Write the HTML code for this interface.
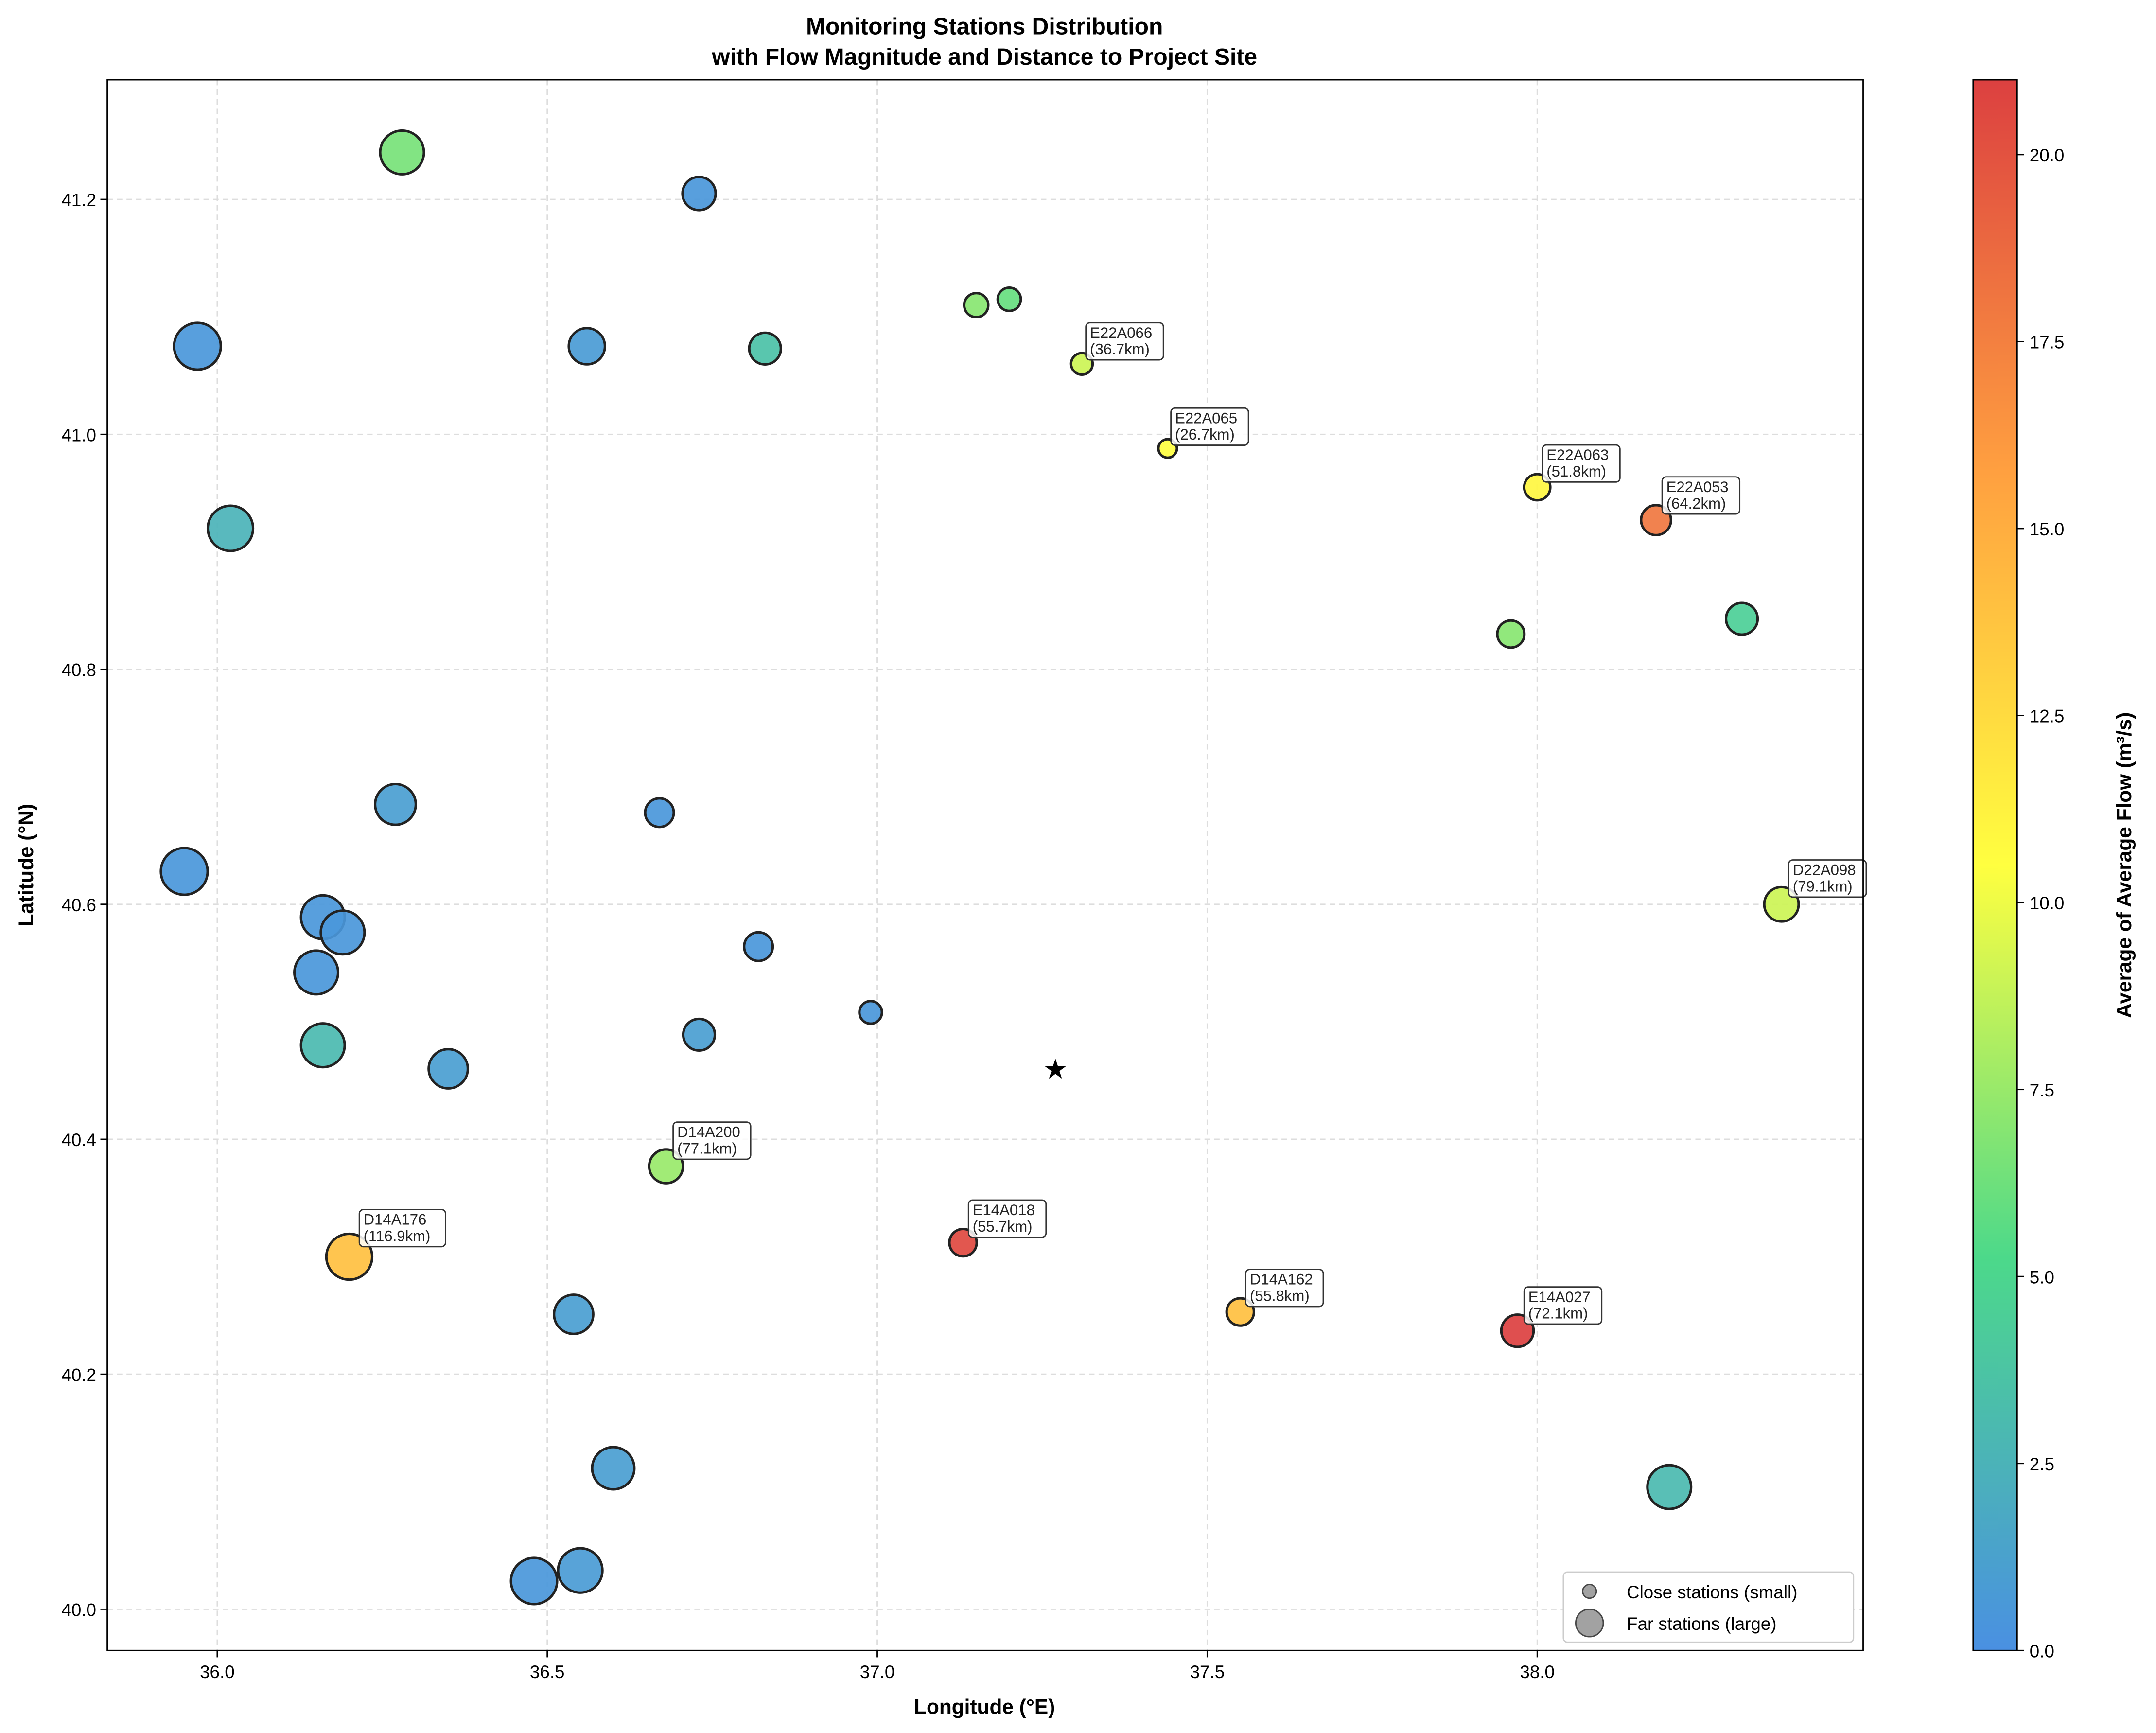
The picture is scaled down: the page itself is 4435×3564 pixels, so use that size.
<!DOCTYPE html>
<html><head><meta charset="utf-8"><style>html,body{margin:0;padding:0;background:#fff}svg{display:block}text{font-family:"Liberation Sans",sans-serif}</style></head>
<body>
<svg id="chart" width="4435" height="3564" viewBox="0 0 1568 1260" preserveAspectRatio="none" xmlns="http://www.w3.org/2000/svg">
<defs><linearGradient id="cbg" x1="0" y1="1" x2="0" y2="0">
<stop offset="0" stop-color="#4a90e2"/><stop offset="0.25" stop-color="#4cd98a"/><stop offset="0.5" stop-color="#ffff40"/><stop offset="0.75" stop-color="#ffa040"/><stop offset="1" stop-color="#dc4040"/></linearGradient></defs>
<rect width="1568" height="1260" fill="#fff"/>
<text x="716" y="25" text-anchor="middle" font-size="17" font-weight="bold">Monitoring Stations Distribution</text>
<text x="716" y="47" text-anchor="middle" font-size="17" font-weight="bold">with Flow Magnitude and Distance to Project Site</text>
<g id="grid"></g>
<g id="marks"></g>
<rect x="78" y="58" width="1277" height="1142" fill="none" stroke="#000" stroke-width="1"/>
<g id="axes"></g>
<text x="716" y="1246" text-anchor="middle" font-size="15" font-weight="bold">Longitude (°E)</text>
<text transform="translate(24,629) rotate(-90)" text-anchor="middle" font-size="15" font-weight="bold">Latitude (°N)</text>
<g>
<rect x="1137" y="1143" width="211" height="51" rx="3" fill="#fff" stroke="#ccc"/>
<circle cx="1156" cy="1157" r="5" fill="#999" stroke="#333" opacity="0.9"/>
<text x="1183" y="1162" font-size="13">Close stations (small)</text>
<circle cx="1156" cy="1180" r="10" fill="#999" stroke="#333" opacity="0.9"/>
<text x="1183" y="1185" font-size="13">Far stations (large)</text>
</g>
<rect x="1435" y="58" width="32" height="1142" fill="url(#cbg)" stroke="#000"/>
<g id="cbticks"></g>
<text transform="translate(1550,629) rotate(-90)" text-anchor="middle" font-size="15" font-weight="bold">Average of Average Flow (m³/s)</text>
</svg>
<script>
const lons=[36.28,36.73,35.97,36.56,36.83,37.15,37.2,37.31,37.44,38.0,38.18,36.02,37.96,38.31,36.27,36.67,35.95,36.16,36.19,36.15,36.82,36.99,36.73,36.16,36.35,36.68,36.2,37.13,37.55,37.97,38.37,36.54,36.6,38.2,36.48,36.55];
const lats=[41.24,41.205,41.075,41.075,41.073,41.11,41.115,41.06,40.988,40.955,40.927,40.92,40.83,40.843,40.685,40.678,40.628,40.589,40.576,40.542,40.564,40.508,40.489,40.48,40.46,40.377,40.30,40.312,40.253,40.237,40.6,40.251,40.12,40.104,40.024,40.033];
const flows=[6.5,0.5,0.5,0.8,3.5,7,6,9,10.5,11,18,2.5,7,4.5,1,0.5,0.5,0.5,0.5,0.5,0.5,0.5,1,3,1,7.5,14,20.5,14,21,9,1,1,3,0.5,0.8];
const dists=[110,75,120,85,70,45,42,36.7,26.7,51.8,64.2,115,55,70,100,60,120,110,110,110,60,40,70,110,95,77.1,116.9,55.7,55.8,72.1,79.1,95,105,110,118,112];
const labels=["","","","","","","","E22A066","E22A065","E22A063","E22A053","","","","","","","","","","","","","","","D14A200","D14A176","E14A018","D14A162","E14A027","D22A098","","","","",""];
const xTicks=[36.0,36.5,37.0,37.5,38.0];
const yTicks=[40.0,40.2,40.4,40.6,40.8,41.0,41.2];
const cTicks=[0,2.5,5,7.5,10,12.5,15,17.5,20];
const site=[37.27,40.46];
const NS="http://www.w3.org/2000/svg";
const X=v=>158+(v-36)*480, Y=v=>1170-(v-40)*854.2, C=v=>1200-v*(1142/21);
const R=d=>6+(d-20)*0.11;
const stops=[[0,[74,144,226]],[5.25,[76,217,138]],[10.5,[255,255,64]],[15.75,[255,160,64]],[21,[220,64,64]]];
function col(v){for(let i=0;i<stops.length-1;i++){const[a,ca]=stops[i],[b,cb]=stops[i+1];if(v<=b){const t=Math.max(0,(v-a)/(b-a));return`rgb(${ca.map((c,k)=>Math.round(c+(cb[k]-c)*t)).join(',')})`;}}return'rgb(220,64,64)';}
function mk(p,tag,at){const e=document.createElementNS(NS,tag);for(const k in at)e.setAttribute(k,at[k]);p.appendChild(e);return e;}
const g=document.getElementById('grid'),m=document.getElementById('marks'),ax=document.getElementById('axes'),cb=document.getElementById('cbticks');
xTicks.forEach(v=>{const l=mk(g,'line',{x1:X(v),x2:X(v),y1:58,y2:1200,stroke:'#ddd','stroke-dasharray':'4,3'});
mk(ax,'line',{x1:X(v),x2:X(v),y1:1200,y2:1205,stroke:'#000'});const t=mk(ax,'text',{x:X(v),y:1220,'text-anchor':'middle','font-size':13});t.textContent=v.toFixed(1);});
yTicks.forEach(v=>{const l=mk(g,'line',{x1:78,x2:1355,y1:Y(v),y2:Y(v),stroke:'#ddd','stroke-dasharray':'4,3'});
mk(ax,'line',{x1:73,x2:78,y1:Y(v),y2:Y(v),stroke:'#000'});const t=mk(ax,'text',{x:70,y:Y(v)+5,'text-anchor':'end','font-size':13});t.textContent=v.toFixed(1);});
cTicks.forEach(v=>{mk(cb,'line',{x1:1467,x2:1472,y1:C(v),y2:C(v),stroke:'#000'});const t=mk(cb,'text',{x:1476,y:C(v)+5,'font-size':13});t.textContent=v.toFixed(1);});
lons.forEach((lo,i)=>{const c=mk(m,'circle',{cx:X(lo),cy:Y(lats[i]),r:R(dists[i]),fill:col(flows[i]),stroke:'#222','stroke-width':1.8,'fill-opacity':0.92});

if(labels[i]){const x=X(lo)+R(dists[i])*0.5-1,y=Y(lats[i])-R(dists[i])*0.5-26;
const gg=mk(m,'g',{});
const d=`(${dists[i].toFixed(1)}km)`;const w=Math.max(labels[i].length,d.length)*6.3+6;
mk(gg,'rect',{x:x,y:y,width:w,height:27,rx:3,fill:'#fff','fill-opacity':0.85,stroke:'#333'});
const t1=mk(gg,'text',{x:x+3,y:y+11,'font-size':11,fill:'#222'});t1.textContent=labels[i];
const t2=mk(gg,'text',{x:x+3,y:y+23,'font-size':11,fill:'#222'});t2.textContent=d;}});
const s=mk(m,'text',{x:X(site[0]),y:Y(site[1])+7,'text-anchor':'middle','font-size':20});s.textContent='★';

</script>
</body></html>
